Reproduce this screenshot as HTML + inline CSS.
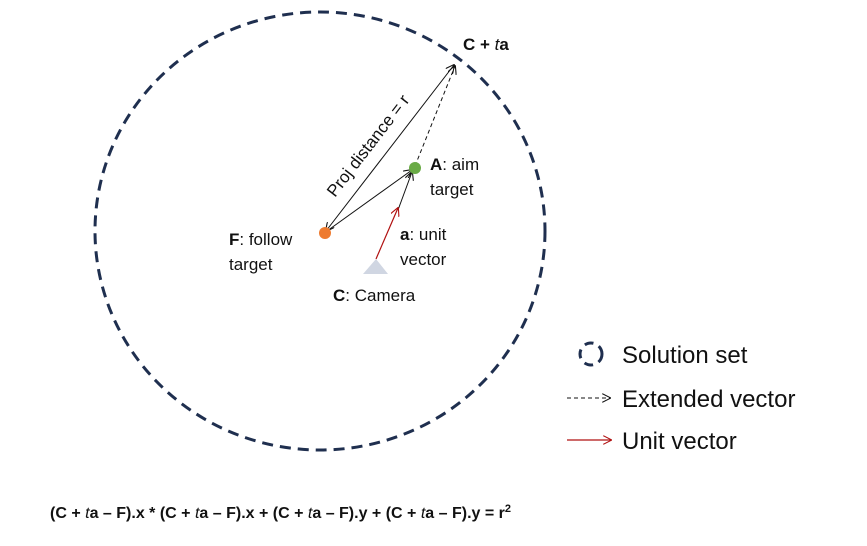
<!DOCTYPE html>
<html><head><meta charset="utf-8"><style>
body{margin:0;background:#fff;width:867px;height:541px;overflow:hidden}
text{font-family:"Liberation Sans",sans-serif;fill:#111}
</style></head><body>
<svg width="867" height="541" viewBox="0 0 867 541">
<defs>
<marker id="ah" viewBox="0 0 10 10" refX="9" refY="5" markerWidth="9" markerHeight="9" orient="auto-start-reverse" markerUnits="userSpaceOnUse"><path d="M0,0 L10,5 L0,10" fill="none" stroke="#111" stroke-width="1.2"/></marker>
<marker id="ahr" viewBox="0 0 10 10" refX="9" refY="5" markerWidth="9" markerHeight="9" orient="auto" markerUnits="userSpaceOnUse"><path d="M0,0 L10,5 L0,10" fill="none" stroke="#b01010" stroke-width="1.2"/></marker>
</defs>
<ellipse cx="320" cy="231" rx="225" ry="219" fill="none" stroke="#1f2f4f" stroke-width="3" stroke-dasharray="11,7"/>
<line x1="326" y1="231" x2="454" y2="65" stroke="#111" stroke-width="1" marker-start="url(#ah)" marker-end="url(#ah)"/>
<line x1="415" y1="166" x2="455" y2="66" stroke="#111" stroke-width="1" stroke-dasharray="4,3" marker-end="url(#ah)"/>
<line x1="327" y1="231" x2="412" y2="170" stroke="#111" stroke-width="1" marker-end="url(#ah)"/>
<line x1="398" y1="210" x2="412" y2="172" stroke="#111" stroke-width="1" marker-end="url(#ah)"/>
<line x1="376" y1="259" x2="398" y2="208" stroke="#b01010" stroke-width="1.2" marker-end="url(#ahr)"/>
<polygon points="363,274 388,274 376,259" fill="#d0d6e2"/>
<circle cx="325" cy="233" r="6" fill="#ee7b30"/>
<circle cx="415" cy="168" r="6" fill="#6aab46"/>
<text x="463" y="50" font-size="17" font-weight="bold">C + <tspan font-style="italic" font-weight="normal">t</tspan>a</text>
<text font-size="17" transform="translate(335,198) rotate(-52.4)">Proj distance = r</text>
<text x="430" y="170" font-size="17"><tspan font-weight="bold">A</tspan>: aim</text>
<text x="430" y="195" font-size="17">target</text>
<text x="400" y="240" font-size="17"><tspan font-weight="bold">a</tspan>: unit</text>
<text x="400" y="265" font-size="17">vector</text>
<text x="229" y="245" font-size="17"><tspan font-weight="bold">F</tspan>: follow</text>
<text x="229" y="270" font-size="17">target</text>
<text x="333" y="301" font-size="17"><tspan font-weight="bold">C</tspan>: Camera</text>
<g>
<circle cx="591" cy="354" r="11" fill="none" stroke="#1f2f4f" stroke-width="3" stroke-dasharray="9,6"/>
<text x="622" y="363" font-size="24">Solution set</text>
<line x1="567" y1="398" x2="610" y2="398" stroke="#111" stroke-width="1" stroke-dasharray="4,3" marker-end="url(#ah)"/>
<text x="622" y="407" font-size="24">Extended vector</text>
<line x1="567" y1="440" x2="611" y2="440" stroke="#b01010" stroke-width="1.2" marker-end="url(#ahr)"/>
<text x="622" y="449" font-size="24">Unit vector</text>
</g>
<text x="50" y="518" font-size="16" font-weight="bold">(C + <tspan font-style="italic" font-weight="normal">t</tspan>a – F).x * (C + <tspan font-style="italic" font-weight="normal">t</tspan>a – F).x + (C + <tspan font-style="italic" font-weight="normal">t</tspan>a – F).y + (C + <tspan font-style="italic" font-weight="normal">t</tspan>a – F).y = r<tspan font-size="11" dy="-6">2</tspan></text>
</svg>
</body></html>
